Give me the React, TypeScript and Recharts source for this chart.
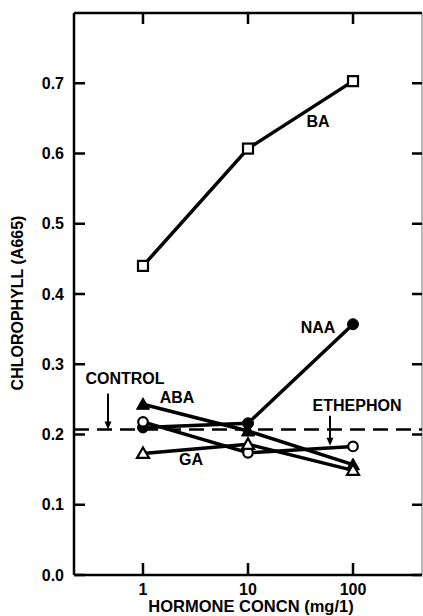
import React from 'react';
import {
  LineChart, Line, XAxis, YAxis, ReferenceLine, ReferenceDot, Label,
} from 'recharts';

// ---- data ----
const CONCENTRATIONS = [1, 10, 100]; // mg/l
const X_TICKS = ['1', '10', '100'];
const Y_TICKS = [0, 0.1, 0.2, 0.3, 0.4, 0.5, 0.6, 0.7];
const BA = [0.44, 0.607, 0.703];
const NAA = [0.21, 0.216, 0.357];
const ABA = [0.243, 0.205, 0.157];
const ETHEPHON = [0.218, 0.174, 0.183];
const GA = [0.173, 0.186, 0.149];
const CONTROL = 0.207;

// ---- layout ----
const W = 423;
const H = 616;
const PLOT_W = 348;
const PLOT_H = 562;
const FONT = "'Liberation Sans', Arial, Helvetica, sans-serif";
const X_DOMAIN: [number, number] = [-0.657, 2.657];
const Y_DOMAIN: [number, number] = [0, 0.8];
const LINE_W = 3.5;

const rows = (vals: number[]) =>
  CONCENTRATIONS.map((c, i) => ({ lx: Math.log10(c), v: vals[i] }));

const SquareDot = (p: any) => (
  <rect key={p.key} x={p.cx - 5} y={p.cy - 5} width={10} height={10} fill="#fff" stroke="#000" strokeWidth={2.2} />
);
const FilledCircle = (p: any) => (
  <circle key={p.key} cx={p.cx} cy={p.cy} r={5.5} fill="#000" stroke="#000" strokeWidth={1} />
);
const OpenCircle = (p: any) => (
  <circle key={p.key} cx={p.cx} cy={p.cy} r={4.8} fill="#fff" stroke="#000" strokeWidth={2.2} />
);
const FilledTri = (p: any) => (
  <path key={p.key} d={`M${p.cx},${p.cy - 6.5} L${p.cx + 6.5},${p.cy + 5} L${p.cx - 6.5},${p.cy + 5} Z`} fill="#000" stroke="#000" strokeWidth={1} />
);
const OpenTri = (p: any) => (
  <path key={p.key} d={`M${p.cx},${p.cy - 6} L${p.cx + 6},${p.cy + 4.5} L${p.cx - 6},${p.cy + 4.5} Z`} fill="#fff" stroke="#000" strokeWidth={2.2} />
);

const YTick = (p: any) => {
  const { x, y, payload } = p;
  return (
    <g>
      <line x1={x} x2={x + 11} y1={y} y2={y} stroke="#000" strokeWidth={2.5} />
      <line x1={x + PLOT_W} x2={x + PLOT_W - 10} y1={y} y2={y} stroke="#000" strokeWidth={2.5} />
      <text x={x - 10} y={y} textAnchor="end" dominantBaseline="central" fontFamily={FONT} fontWeight="bold" fontSize={16} fill="#000">
        {Number(payload.value).toFixed(1)}
      </text>
    </g>
  );
};

const XTick = (p: any) => {
  const { x, y, payload, index } = p;
  return (
    <g>
      <line x1={x} x2={x} y1={y} y2={y - 12} stroke="#000" strokeWidth={2.5} />
      <line x1={x} x2={x} y1={y - PLOT_H} y2={y - PLOT_H + 11} stroke="#000" strokeWidth={2.5} />
      <text x={x} y={y + 20} textAnchor="middle" fontFamily={FONT} fontWeight="bold" fontSize={16} fill="#000">
        {X_TICKS[index] ?? String(Math.pow(10, payload.value))}
      </text>
    </g>
  );
};

const YTitle = () => {
  const cx = 17;
  const cy = 303;
  return (
    <text x={cx} y={cy} transform={`rotate(-90, ${cx}, ${cy})`} textAnchor="middle" dominantBaseline="central" fontFamily={FONT} fontWeight="bold" fontSize={16} fill="#000">
      CHLOROPHYLL (A665)
    </text>
  );
};

const XTitle = (p: any) => {
  const vb = p.viewBox || {};
  const cx = (vb.x ?? 74) + (vb.width ?? PLOT_W) / 2 + 3;
  return (
    <text x={cx} y={612} textAnchor="middle" fontFamily={FONT} fontWeight="bold" fontSize={16.5} fill="#000">
      HORMONE CONCN (mg/1)
    </text>
  );
};

// annotation positions (data coordinates: log10 concentration, absorbance)
const TEXT_LABELS = [
  { text: 'BA', x: 1.667, y: 0.646 },
  { text: 'NAA', x: 1.667, y: 0.352 },
  { text: 'ABA', x: 0.324, y: 0.252 },
  { text: 'GA', x: 0.457, y: 0.165 },
  { text: 'CONTROL', x: -0.171, y: 0.280 },
  { text: 'ETHEPHON', x: 2.038, y: 0.241 },
];
const ARROWS = [
  { x: -0.333, y: CONTROL, len: 36 },
  { x: 1.781, y: 0.184, len: 30 },
];

const TextShape = (text: string) => (p: any) => (
  <text x={p.cx} y={p.cy} textAnchor="middle" dominantBaseline="central" fontFamily={FONT} fontWeight="bold" fontSize={16} fill="#000">
    {text}
  </text>
);

const ArrowShape = (len: number) => (p: any) => (
  <g>
    <line x1={p.cx} x2={p.cx} y1={p.cy - len} y2={p.cy - 5} stroke="#000" strokeWidth={2} />
    <path d={`M${p.cx},${p.cy} L${p.cx + 3.5},${p.cy - 8} L${p.cx - 3.5},${p.cy - 8} Z`} fill="#000" />
  </g>
);

export default function App() {
  return (
    <div style={{ position: 'absolute', left: 0, top: 0, width: W, height: H, background: '#fff' }}>
      <LineChart width={W} height={H} margin={{ top: 13, right: 1, bottom: 0, left: 0 }}>
        <XAxis
          dataKey="lx"
          type="number"
          domain={X_DOMAIN}
          ticks={CONCENTRATIONS.map((c) => Math.log10(c))}
          height={41}
          axisLine={false}
          tickLine={false}
          tickSize={0}
          tickMargin={0}
          tick={<XTick />}
          interval={0}
          allowDataOverflow
          label={<Label content={<XTitle />} />}
        />
        <YAxis
          type="number"
          domain={Y_DOMAIN}
          ticks={Y_TICKS}
          width={74}
          axisLine={false}
          tickLine={false}
          tickSize={0}
          tickMargin={0}
          tick={<YTick />}
          interval={0}
          allowDataOverflow
          label={<Label content={<YTitle />} />}
        />
        {/* frame */}
        <ReferenceLine x={X_DOMAIN[1]} stroke="#888" strokeWidth={1.2} />
        <ReferenceLine x={X_DOMAIN[0]} stroke="#000" strokeWidth={2.5} />
        <ReferenceLine y={Y_DOMAIN[0]} stroke="#000" strokeWidth={2.5} />
        <ReferenceLine y={Y_DOMAIN[1]} stroke="#000" strokeWidth={2.5} />
        <ReferenceLine y={CONTROL} stroke="#000" strokeWidth={2.5} strokeDasharray="15 8" />
        <Line data={rows(BA)} dataKey="v" type="linear" stroke="#000" strokeWidth={LINE_W} dot={<SquareDot />} isAnimationActive={false} />
        <Line data={rows(NAA)} dataKey="v" type="linear" stroke="#000" strokeWidth={LINE_W} dot={<FilledCircle />} isAnimationActive={false} />
        <Line data={rows(ABA)} dataKey="v" type="linear" stroke="#000" strokeWidth={LINE_W} dot={<FilledTri />} isAnimationActive={false} />
        <Line data={rows(ETHEPHON)} dataKey="v" type="linear" stroke="#000" strokeWidth={LINE_W} dot={<OpenCircle />} isAnimationActive={false} />
        <Line data={rows(GA)} dataKey="v" type="linear" stroke="#000" strokeWidth={LINE_W} dot={<OpenTri />} isAnimationActive={false} />
        {TEXT_LABELS.map((l) => (
          <ReferenceDot key={l.text} x={l.x} y={l.y} r={0} shape={TextShape(l.text)} />
        ))}
        {ARROWS.map((a, i) => (
          <ReferenceDot key={'arrow' + i} x={a.x} y={a.y} r={0} shape={ArrowShape(a.len)} />
        ))}
      </LineChart>
    </div>
  );
}
